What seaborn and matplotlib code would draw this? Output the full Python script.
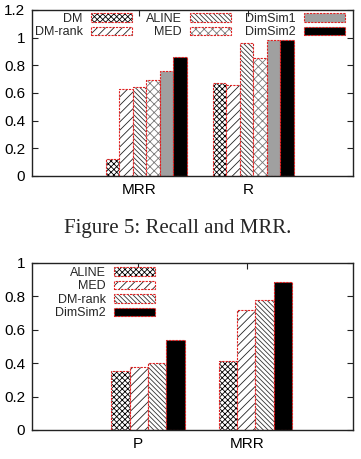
import pandas as pd
import numpy as np
import matplotlib
matplotlib.use('Agg')
import matplotlib.pyplot as plt
import seaborn as sns

# top chart: MRR and R
top_metrics = ['MRR', 'R']
top_methods = ['DM', 'DM-rank', 'ALINE', 'MED', 'DimSim1', 'DimSim2']
top_mrr = [0.12, 0.63, 0.64, 0.69, 0.76, 0.86]
top_r = [0.67, 0.66, 0.96, 0.85, 0.98, 0.985]

# bottom chart: P and MRR
bot_metrics = ['P', 'MRR']
bot_methods = ['ALINE', 'MED', 'DM-rank', 'DimSim2']
bot_p = [0.355, 0.378, 0.40, 0.537]
bot_mrr = [0.41, 0.718, 0.778, 0.885]

caption = 'Figure 5: Recall and MRR.'

# gnuplot-like fill styles: (face, hatch, hatch colour)
pat_cross = ('white', 'xxxxxx', 'black')
pat_slash = ('white', '////', '#222222')
pat_back = ('white', '\\\\\\\\\\\\\\', '#333333')
pat_light = ('white', 'xxxx', '#777777')
pat_gray = ('#a0a0a0', '', 'black')
pat_black = ('black', '', 'black')

top_styles = [pat_cross, pat_slash, pat_back, pat_light, pat_gray, pat_black]
bot_styles = [pat_cross, pat_slash, pat_back, pat_black]

sns.set_style('ticks')
plt.rcParams['font.family'] = ['Liberation Sans', 'DejaVu Sans']
plt.rcParams['hatch.linewidth'] = 0.6


def draw_panel(ax, metrics, methods, values, styles, width, xlim, ylim, yticks,
               tick_shift, leg_anchor, leg_ncol):
    df = pd.DataFrame({
        'metric': np.repeat(metrics, len(methods)),
        'method': methods * len(metrics),
        'value': np.concatenate(values),
    })
    sns.barplot(data=df, x='metric', y='value', hue='method', order=metrics,
                hue_order=methods, palette=[s[0] for s in styles], width=width,
                saturation=1, edgecolor='#e02020', linewidth=0.8, legend=False, ax=ax)
    for cont, (face, hatch, hcol) in zip(ax.containers, styles):
        for bar in cont.patches:
            bar.set_hatch(hatch)
            bar.set_linestyle((0, (2, 1)))
            bar._hatch_color = matplotlib.colors.to_rgba(hcol)
    ax.set_xlim(*xlim)
    ax.set_ylim(*ylim)
    ax.set_yticks(yticks)
    ax.set_yticklabels(['%g' % t for t in yticks])
    ax.set_xticks(np.arange(len(metrics)) + np.array(tick_shift))
    ax.set_xticklabels(metrics)
    ax.set_xlabel('')
    ax.set_ylabel('')
    for sp in ax.spines.values():
        sp.set_visible(True)
        sp.set_linewidth(1.0)
        sp.set_color('#222222')
    ax.tick_params(direction='in', length=4, width=0.8, top=True, right=True,
                   labelsize=11, pad=5, colors='#222222', labelcolor='black')
    handles = [c.patches[0] for c in ax.containers]
    ax.legend(handles=handles, labels=methods, loc='upper left',
              bbox_to_anchor=leg_anchor, ncol=leg_ncol, markerfirst=False,
              frameon=False, fontsize=9, handlelength=3.3, handleheight=0.65,
              handletextpad=0.65, labelspacing=0.12, columnspacing=1.1,
              borderpad=0, borderaxespad=0)


fig = plt.figure(figsize=(3.61, 4.59), dpi=100)
ax1 = fig.add_axes([0.0886, 0.6166, 0.889, 0.362])
ax2 = fig.add_axes([0.0886, 0.0632, 0.889, 0.364])

draw_panel(ax1, top_metrics, top_methods, [top_mrr, top_r], top_styles,
           width=0.757, xlim=(-1.068, 1.932), ylim=(0, 1.2),
           yticks=[0, 0.2, 0.4, 0.6, 0.8, 1.0, 1.2], tick_shift=[-0.07, -0.05],
           leg_anchor=(0.009, 0.982), leg_ncol=3)

draw_panel(ax2, bot_metrics, bot_methods, [bot_p, bot_mrr], bot_styles,
           width=0.684, xlim=(-1.079, 1.907), ylim=(0, 1.0),
           yticks=[0, 0.2, 0.4, 0.6, 0.8, 1.0], tick_shift=[-0.093, -0.079],
           leg_anchor=(0.072, 0.976), leg_ncol=1)

fig.text(0.493, 0.503, caption, ha='center', va='center', fontsize=15,
         family=['Liberation Serif', 'DejaVu Serif'])

fig.savefig('out.png', dpi=100)
